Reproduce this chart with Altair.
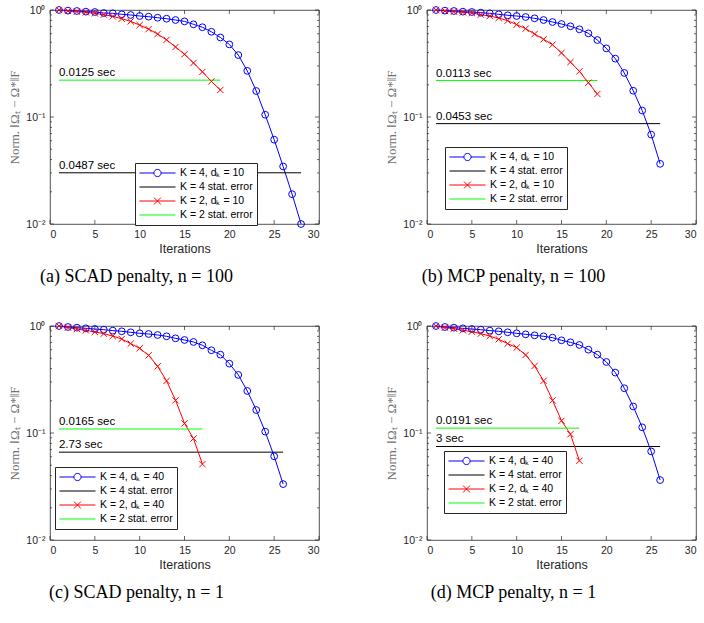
import altair as alt
import pandas as pd

# ---------------- data ----------------
ITER_TICKS = [0, 5, 10, 15, 20, 25, 30]
Y_MAJOR = [0.01, 0.1, 1.0]
Y_MINOR = [0.02, 0.03, 0.04, 0.05, 0.06, 0.07, 0.08, 0.09,
           0.2, 0.3, 0.4, 0.5, 0.6, 0.7, 0.8, 0.9]

# (a) SCAD, n = 100
a_blue = [1.000, 0.986, 0.979, 0.965, 0.958, 0.937, 0.931, 0.911, 0.898, 0.879,
          0.866, 0.847, 0.829, 0.806, 0.783, 0.735, 0.690, 0.626, 0.554, 0.477,
          0.379, 0.270, 0.175, 0.105, 0.0614, 0.0345, 0.0190, 0.0100]
a_red = [1.000, 0.979, 0.965, 0.951, 0.931, 0.905, 0.872, 0.829, 0.783, 0.723,
         0.663, 0.596, 0.526, 0.451, 0.386, 0.320, 0.264, 0.215, 0.179]
a_stat = [0.0301, 0.221]
a_time = ["0.0487 sec", "0.0125 sec"]

# (b) MCP, n = 100
b_blue = [1.000, 0.986, 0.979, 0.965, 0.958, 0.944, 0.931, 0.911, 0.892, 0.879,
          0.860, 0.836, 0.806, 0.772, 0.740, 0.704, 0.660, 0.605, 0.524, 0.438,
          0.351, 0.258, 0.176, 0.115, 0.0685, 0.0365]
b_red = [1.000, 0.979, 0.965, 0.951, 0.937, 0.905, 0.878, 0.842, 0.795, 0.730,
         0.669, 0.596, 0.532, 0.474, 0.397, 0.326, 0.267, 0.209, 0.164]
b_stat = [0.0867, 0.219]
b_time = ["0.0453 sec", "0.0113 sec"]

# (c) SCAD, n = 1
c_blue = [1.000, 0.979, 0.965, 0.951, 0.937, 0.924, 0.905, 0.892, 0.873, 0.854,
          0.842, 0.824, 0.801, 0.767, 0.740, 0.709, 0.660, 0.593, 0.540, 0.445,
          0.349, 0.247, 0.164, 0.103, 0.0606, 0.0333]
c_red = [1.000, 0.965, 0.937, 0.911, 0.879, 0.848, 0.806, 0.756, 0.684, 0.619,
         0.532, 0.420, 0.307, 0.202, 0.123, 0.0888, 0.0512]
c_stat = [0.0662, 0.109]
c_time = ["2.73 sec", "0.0165 sec"]

# (d) MCP, n = 1
d_blue = [1.000, 0.979, 0.965, 0.951, 0.937, 0.924, 0.905, 0.892, 0.873, 0.854,
          0.836, 0.818, 0.801, 0.778, 0.735, 0.704, 0.665, 0.601, 0.540, 0.461,
          0.367, 0.262, 0.177, 0.113, 0.0673, 0.0363]
d_red = [1.000, 0.965, 0.944, 0.911, 0.886, 0.848, 0.806, 0.751, 0.684, 0.628,
         0.536, 0.423, 0.307, 0.202, 0.130, 0.0975, 0.0550]
d_stat = [0.0748, 0.111]
d_time = ["3 sec", "0.0191 sec"]

captions = ["(a) SCAD penalty, n = 100", "(b) MCP penalty, n = 100",
            "(c) SCAD penalty, n = 1", "(d) MCP penalty, n = 1"]
dks = [10, 10, 40, 40]
legend_pos = [(85, 153), (18, 137), (5, 141), (17, 125)]

# ---------------- styling ----------------
W, H = 269, 214
SANS = "Liberation Sans"
SERIF = "Liberation Serif"
AX = "#262626"
COLORS = ["#0000ff", "#000000", "#ff0000", "#00ff00"]
SYMS = [
    "M-1,0L-0.2,0M0.2,0L1,0M0.2,0A0.2,0.2,0,1,1,-0.2,0A0.2,0.2,0,1,1,0.2,0",
    "M-1,0L1,0",
    "M-1,0L1,0M-0.19,-0.19L0.19,0.19M-0.19,0.19L0.19,-0.19",
    "M-1,0L1,0",
]
XPATH = "M-1,-1L1,1M-1,1L1,-1"


def panel(blue, red, stat, times, dk, caption, lpos):
    names = [f"K = 4, dₖ = {dk}", "K = 4 stat. error",
             f"K = 2, dₖ = {dk}", "K = 2 stat. error"]
    nb, nr = len(blue), len(red)
    rows = [{"series": names[0], "iter": i + 1, "value": v} for i, v in enumerate(blue)]
    rows += [{"series": names[1], "iter": 1, "value": stat[0]},
             {"series": names[1], "iter": nb, "value": stat[0]}]
    rows += [{"series": names[2], "iter": i + 1, "value": v} for i, v in enumerate(red)]
    rows += [{"series": names[3], "iter": 1, "value": stat[1]},
             {"series": names[3], "iter": nr, "value": stat[1]}]
    df = pd.DataFrame(rows)
    blue_df = df[df.series == names[0]]
    red_df = df[df.series == names[2]]
    txt_df = pd.DataFrame({"iter": [1, 1], "value": stat, "label": times})

    xenc = alt.X("iter:Q", scale=alt.Scale(domain=[0, 30], nice=False, zero=False),
                 axis=alt.Axis(values=ITER_TICKS, title="Iterations", titlePadding=3,
                               labelPadding=5))
    yenc = alt.Y("value:Q", scale=alt.Scale(type="log", domain=[0.01, 1], nice=False),
                 axis=alt.Axis(values=Y_MAJOR, title="Norm.  ‖Ωₜ − Ω*‖F",
                               titleFont=SERIF, titleFontSize=13, titleColor="#707070",
                               titlePadding=4, labelPadding=5,
                               labelExpr="datum.value > 0.5 ? '10⁰' : datum.value > 0.05 ? '10⁻¹' : '10⁻²'"))
    cscale = alt.Scale(domain=names, range=COLORS)
    sscale = alt.Scale(domain=names, range=SYMS)

    leg = alt.Legend(title=None, orient="none", legendX=lpos[0], legendY=lpos[1],
                     symbolSize=1296, clipHeight=12, rowPadding=2, padding=4,
                     strokeColor=AX, fillColor="white", labelFont=SANS,
                     labelFontSize=10.5, labelColor="#000", labelOffset=4,
                     symbolStrokeWidth=1, symbolFillColor="transparent")

    lines = alt.Chart(df).mark_line(strokeWidth=1).encode(
        x=xenc, y=yenc, color=alt.Color("series:N", scale=cscale, legend=leg))
    circles = alt.Chart(blue_df).mark_point(shape="circle", filled=False, size=46,
                                            strokeWidth=1, color=COLORS[0], opacity=1).encode(x=xenc, y=yenc)
    crosses = alt.Chart(red_df).mark_point(shape=XPATH, filled=False, size=40,
                                           strokeWidth=1, color=COLORS[2], opacity=1).encode(x=xenc, y=yenc)
    texts = alt.Chart(txt_df).mark_text(align="left", baseline="bottom", dy=-2,
                                        font=SANS, fontSize=11.5, color="#000").encode(
        x=xenc, y=yenc, text="label:N")
    # layer with no rows that only supplies the legend symbols
    legend_layer = alt.Chart(df).transform_filter("datum.iter < 0").mark_point(
        filled=False, size=1296, strokeWidth=1, opacity=1).encode(
        x=xenc, y=yenc,
        color=alt.Color("series:N", scale=cscale, legend=leg),
        shape=alt.Shape("series:N", scale=sscale, legend=leg))

    ymaj = pd.DataFrame({"value": Y_MAJOR})
    ymin = pd.DataFrame({"value": Y_MINOR})
    xt = pd.DataFrame({"iter": ITER_TICKS})

    def rule(d):
        return alt.Chart(d).mark_rule(color=AX, strokeWidth=0.7)

    ticks = [
        rule(ymaj).encode(y=yenc, x=alt.value(0), x2=alt.value(4)),
        rule(ymaj).encode(y=yenc, x=alt.value(W - 4), x2=alt.value(W)),
        rule(ymin).encode(y=yenc, x=alt.value(0), x2=alt.value(2)),
        rule(ymin).encode(y=yenc, x=alt.value(W - 2), x2=alt.value(W)),
        rule(xt).encode(x=xenc, y=alt.value(H), y2=alt.value(H - 4)),
        rule(xt).encode(x=xenc, y=alt.value(0), y2=alt.value(4)),
    ]

    return alt.layer(*ticks, lines, circles, crosses, texts, legend_layer).properties(
        width=W, height=H,
        title=alt.TitleParams(text=caption, orient="bottom", font=SERIF, fontSize=18,
                              fontWeight="normal", color="#000", anchor="middle",
                              frame="group", dx=-48, offset=13))


datasets = [(a_blue, a_red, a_stat, a_time), (b_blue, b_red, b_stat, b_time),
            (c_blue, c_red, c_stat, c_time), (d_blue, d_red, d_stat, d_time)]
panels = [panel(*ds, dks[i], captions[i], legend_pos[i]) for i, ds in enumerate(datasets)]

chart = alt.concat(*panels, columns=2, spacing={"row": 102, "column": 108},
                   bounds="flush").resolve_scale(
    color="independent", shape="independent"
).resolve_legend(
    color="independent", shape="independent"
).properties(
    padding={"left": 8, "top": 4, "right": 5, "bottom": 5},
    background="white",
).configure_view(stroke=AX, strokeWidth=0.8).configure_axis(
    grid=False, domain=False, ticks=False, labelFont=SANS, labelFontSize=10.5,
    labelColor=AX, labelPadding=3, titleFont=SANS, titleFontSize=12.5,
    titleColor=AX, titleFontWeight="normal")

chart.save("out.html", embed_options={"renderer": "svg", "actions": False})
